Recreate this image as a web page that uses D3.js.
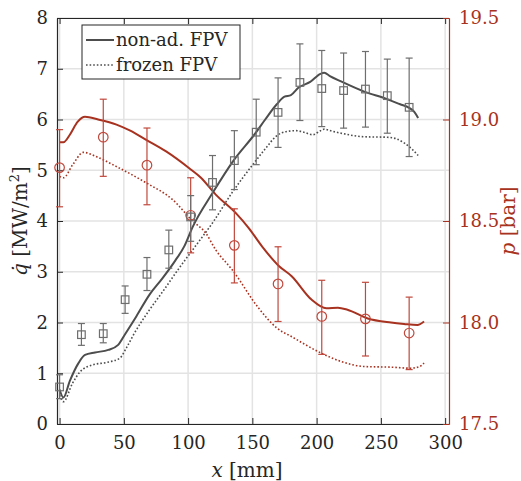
<!DOCTYPE html>
<html>
<head>
<meta charset="utf-8">
<script src="https://cdn.jsdelivr.net/npm/d3@7"></script>
<style>
  body { margin: 0; background: #fff; }
  text { font-family: "DejaVu Serif", serif; }
</style>
</head>
<body>
<div id="chart"></div>
<script>
// Axis ticks
const xTicks = [0, 50, 100, 150, 200, 250, 300];
const qTicks = [0, 1, 2, 3, 4, 5, 6, 7, 8];
const pTicks = [17.5, 18, 18.5, 19, 19.5];

// Simulated heat flux, non-adiabatic FPV
const qNonAdX = [0, 3, 8, 14.7, 19.8, 27.6, 37.9, 45.6, 50.7, 59.7, 70, 80, 90, 97, 103.5, 119, 135.6, 152.4, 160, 169, 175, 180, 186, 195, 203, 206, 210, 219, 237, 255, 265, 272, 276, 279];
const qNonAd  = [0.68, 0.52, 0.85, 1.2, 1.36, 1.41, 1.46, 1.56, 1.76, 2.12, 2.55, 2.87, 3.22, 3.5, 3.88, 4.55, 5.2, 5.73, 6.0, 6.3, 6.45, 6.48, 6.63, 6.74, 6.9, 6.92, 6.86, 6.75, 6.55, 6.4, 6.3, 6.23, 6.15, 6.03];

// Simulated heat flux, frozen FPV
const qFrozenX = [0, 3, 10, 16, 25, 38, 47, 52, 58, 70, 80, 93, 103.5, 120, 134, 150, 160, 169, 176, 184, 190, 197, 203, 206, 212, 219, 237, 255, 262, 268, 274, 279];
const qFrozen  = [0.57, 0.44, 0.8, 1.03, 1.16, 1.22, 1.3, 1.5, 1.78, 2.25, 2.6, 3.07, 3.43, 4.0, 4.55, 5.1, 5.42, 5.68, 5.76, 5.78, 5.75, 5.7, 5.78, 5.81, 5.77, 5.73, 5.66, 5.65, 5.62, 5.54, 5.42, 5.29];

// Simulated pressure, non-adiabatic FPV
const pNonAdX = [0, 3, 8, 14, 19.8, 30, 44.3, 55, 67.4, 82.9, 100.9, 110, 121.5, 137, 147.2, 157.5, 170.4, 180.6, 196, 207.6, 216.6, 224, 239.8, 257.8, 268, 278.4, 283.6];
const pNonAd  = [18.888, 18.888, 18.925, 18.988, 19.013, 19.0, 18.975, 18.945, 18.9, 18.843, 18.76, 18.713, 18.63, 18.54, 18.465, 18.375, 18.28, 18.228, 18.113, 18.07, 18.073, 18.063, 18.02, 18.0, 17.993, 17.988, 18.005];

// Simulated pressure, frozen FPV
const pFrozenX = [0, 3, 10, 18.5, 30, 44.3, 67.4, 88, 103.5, 113.8, 121.5, 134.3, 155, 169, 180.6, 204, 219, 237.3, 257.8, 273, 280, 283.6];
const pFrozen  = [18.72, 18.713, 18.775, 18.838, 18.813, 18.768, 18.688, 18.605, 18.5, 18.44, 18.358, 18.26, 18.07, 17.973, 17.93, 17.848, 17.808, 17.783, 17.78, 17.775, 17.783, 17.8];

// Measured heat flux with error bars
const qExpX  = [0, 17, 34, 51, 68, 85, 102, 119, 136, 153, 170, 187, 204, 221, 238, 255, 272];
const qExp   = [0.73, 1.76, 1.78, 2.45, 2.95, 3.43, 4.08, 4.76, 5.19, 5.75, 6.14, 6.73, 6.61, 6.57, 6.6, 6.47, 6.24];
const qExpLo = [0.5, 1.55, 1.6, 2.18, 2.63, 3.07, 3.6, 4.22, 4.62, 5.11, 5.45, 5.98, 5.86, 5.83, 5.85, 5.73, 5.27];
const qExpHi = [0.97, 1.98, 1.98, 2.72, 3.28, 3.82, 4.5, 5.29, 5.78, 6.4, 6.82, 7.49, 7.36, 7.31, 7.34, 7.19, 7.21];

// Measured pressure with error bars
const pExpX  = [0, 34, 68, 102, 136, 170, 204, 238, 272];
const pExp   = [18.763, 18.913, 18.775, 18.528, 18.38, 18.19, 18.03, 18.018, 17.948];
const pExpLo = [18.57, 18.72, 18.58, 18.343, 18.195, 18.005, 17.843, 17.835, 17.768];
const pExpHi = [18.95, 19.1, 18.958, 18.713, 18.56, 18.373, 18.208, 18.198, 18.125];

const margin = { top: 18, right: 72, bottom: 57, left: 57 };
const width = 392;
const height = 406;

const grayLine = "#4d4d4d";
const grayMark = "#6e6e6e";
const redLine = "#a83220";
const redMark = "#c0483c";
const fontSize = 18;
const labelSize = 20;

const svg = d3.select("#chart").append("svg")
    .attr("width", width + margin.left + margin.right)
    .attr("height", height + margin.top + margin.bottom);

const g = svg.append("g")
    .attr("transform", `translate(${margin.left}, ${margin.top})`);

const x = d3.scaleLinear().domain([-2, 303]).range([0, width]);
const y = d3.scaleLinear().domain([0, 8]).range([height, 0]);
const yP = d3.scaleLinear().domain([17.5, 19.5]).range([height, 0]);

// grid
g.append("g").selectAll("line")
    .data(xTicks)
    .join("line")
    .attr("x1", d => x(d)).attr("x2", d => x(d))
    .attr("y1", 0).attr("y2", height)
    .attr("stroke", "#e3e3e3").attr("stroke-width", 1.5);
g.append("g").selectAll("line")
    .data(qTicks)
    .join("line")
    .attr("x1", 0).attr("x2", width)
    .attr("y1", d => y(d)).attr("y2", d => y(d))
    .attr("stroke", "#e3e3e3").attr("stroke-width", 1.5);

// axes
function styleAxis(sel, color) {
    sel.attr("font-family", null);
    sel.selectAll("path").attr("stroke", color).attr("stroke-width", 1.2);
    sel.selectAll("line").attr("stroke", color).attr("stroke-width", 1);
    sel.selectAll("text")
        .attr("fill", color)
        .attr("font-size", fontSize);
}

g.append("g")
    .attr("transform", `translate(0, ${height})`)
    .call(d3.axisBottom(x).tickValues(xTicks).tickSizeInner(-6).tickSizeOuter(0).tickPadding(12))
    .call(s => styleAxis(s, "#262626"));

g.append("g")
    .call(d3.axisTop(x).tickValues(xTicks).tickSizeInner(-6).tickSizeOuter(0).tickFormat(""))
    .call(s => styleAxis(s, "#262626"));

g.append("g")
    .call(d3.axisLeft(y).tickValues(qTicks).tickSizeInner(-6).tickSizeOuter(0).tickPadding(9))
    .call(s => styleAxis(s, "#262626"));

g.append("g")
    .attr("transform", `translate(${width}, 0)`)
    .call(d3.axisRight(yP).tickValues(pTicks).tickSizeInner(-6).tickSizeOuter(0).tickPadding(10))
    .call(s => styleAxis(s, redLine));

// axis labels
const xLab = g.append("text")
    .attr("x", 190)
    .attr("y", height + 53)
    .attr("text-anchor", "middle")
    .attr("font-size", labelSize)
    .attr("fill", "#262626");
xLab.append("tspan").attr("font-style", "italic").text("x");
xLab.append("tspan").text(" [mm]");

const yLab = g.append("text")
    .attr("transform", `translate(-30, ${height / 2}) rotate(-90)`)
    .attr("text-anchor", "middle")
    .attr("font-size", labelSize)
    .attr("fill", "#262626");
yLab.append("tspan").attr("font-style", "italic").text("q\u0307");
yLab.append("tspan").text(" [MW/m");
yLab.append("tspan").attr("font-size", 13).attr("dy", -8).text("2");
yLab.append("tspan").attr("dy", 8).text("]");

const pLab = g.append("text")
    .attr("transform", `translate(${width + 66}, ${height / 2}) rotate(-90)`)
    .attr("text-anchor", "middle")
    .attr("font-size", labelSize)
    .attr("fill", redLine);
pLab.append("tspan").attr("font-style", "italic").text("p");
pLab.append("tspan").text(" [bar]");

// simulation lines
const lineQ = d3.line().x(d => x(d[0])).y(d => y(d[1])).curve(d3.curveMonotoneX);
const lineP = d3.line().x(d => x(d[0])).y(d => yP(d[1])).curve(d3.curveMonotoneX);

g.append("path")
    .datum(d3.zip(pFrozenX, pFrozen))
    .attr("d", lineP)
    .attr("fill", "none").attr("stroke", redLine)
    .attr("stroke-width", 1.6).attr("stroke-dasharray", "1.6,2");

g.append("path")
    .datum(d3.zip(pNonAdX, pNonAd))
    .attr("d", lineP)
    .attr("fill", "none").attr("stroke", redLine)
    .attr("stroke-width", 2);

g.append("path")
    .datum(d3.zip(qFrozenX, qFrozen))
    .attr("d", lineQ)
    .attr("fill", "none").attr("stroke", grayLine)
    .attr("stroke-width", 1.6).attr("stroke-dasharray", "1.6,2");

g.append("path")
    .datum(d3.zip(qNonAdX, qNonAd))
    .attr("d", lineQ)
    .attr("fill", "none").attr("stroke", grayLine)
    .attr("stroke-width", 2);

// error bars
function errorBars(xs, lo, hi, scale, color) {
    const eg = g.append("g").attr("stroke", color).attr("stroke-width", 1.2);
    const rows = xs.map((d, i) => ({ x: d, lo: lo[i], hi: hi[i] }));
    eg.selectAll(".v").data(rows).join("line")
        .attr("x1", d => x(d.x)).attr("x2", d => x(d.x))
        .attr("y1", d => scale(d.lo)).attr("y2", d => scale(d.hi));
    eg.selectAll(".lo").data(rows).join("line")
        .attr("x1", d => x(d.x) - 3.5).attr("x2", d => x(d.x) + 3.5)
        .attr("y1", d => scale(d.lo)).attr("y2", d => scale(d.lo));
    eg.selectAll(".hi").data(rows).join("line")
        .attr("x1", d => x(d.x) - 3.5).attr("x2", d => x(d.x) + 3.5)
        .attr("y1", d => scale(d.hi)).attr("y2", d => scale(d.hi));
}

errorBars(pExpX, pExpLo, pExpHi, yP, redMark);
errorBars(qExpX, qExpLo, qExpHi, y, grayMark);

g.append("g").selectAll("circle")
    .data(d3.zip(pExpX, pExp))
    .join("circle")
    .attr("cx", d => x(d[0]))
    .attr("cy", d => yP(d[1]))
    .attr("r", 4.8)
    .attr("fill", "none")
    .attr("stroke", redMark)
    .attr("stroke-width", 1.2);

g.append("g").selectAll("rect")
    .data(d3.zip(qExpX, qExp))
    .join("rect")
    .attr("x", d => x(d[0]) - 3.8)
    .attr("y", d => y(d[1]) - 3.8)
    .attr("width", 7.6)
    .attr("height", 7.6)
    .attr("fill", "none")
    .attr("stroke", grayMark)
    .attr("stroke-width", 1.2);

// legend
const legend = svg.append("g");
legend.append("rect")
    .attr("x", 82).attr("y", 25)
    .attr("width", 158).attr("height", 54)
    .attr("fill", "#fff")
    .attr("stroke", "#262626").attr("stroke-width", 1);
legend.append("line")
    .attr("x1", 86).attr("x2", 114).attr("y1", 40).attr("y2", 40)
    .attr("stroke", grayLine).attr("stroke-width", 2);
legend.append("line")
    .attr("x1", 86).attr("x2", 114).attr("y1", 65).attr("y2", 65)
    .attr("stroke", grayLine).attr("stroke-width", 1.6).attr("stroke-dasharray", "1.6,2");
legend.append("text")
    .attr("x", 116).attr("y", 46)
    .attr("font-size", fontSize).attr("fill", "#262626")
    .text("non-ad. FPV");
legend.append("text")
    .attr("x", 116).attr("y", 71)
    .attr("font-size", fontSize).attr("fill", "#262626")
    .text("frozen FPV");
</script>
</body>
</html>
